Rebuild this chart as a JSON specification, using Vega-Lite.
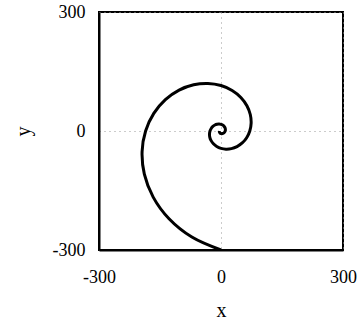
{
  "$schema": "https://vega.github.io/schema/vega-lite/v6.json",
  "width": 244,
  "height": 238,
  "autosize": "none",
  "padding": {"left": 99, "top": 12, "right": 16, "bottom": 70},
  "background": "white",
  "config": {
    "font": "Liberation Serif",
    "view": {"stroke": "black", "strokeWidth": 2},
    "axis": {
      "labelFont": "Liberation Serif",
      "titleFont": "Liberation Serif",
      "labelColor": "black",
      "titleColor": "black",
      "labelFontSize": 18,
      "titleFontSize": 20,
      "titleFontWeight": "normal",
      "labelExpr": "replace(datum.label, '\u2212', '-')",
      "ticks": false,
      "labelFlush": false,
      "labelOverlap": false,
      "domainColor": "black",
      "domainWidth": 2,
      "grid": true,
      "gridColor": "#999999",
      "gridDash": [1, 4],
      "gridWidth": 1
    }
  },
  "data": {
    "values": [
      {"i": 0, "x": 0, "y": -300},
      {"i": 1, "x": -71.66, "y": -267.45},
      {"i": 2, "x": -127.77, "y": -221.3},
      {"i": 3, "x": -166.76, "y": -166.76},
      {"i": 4, "x": -188.5, "y": -108.83},
      {"i": 5, "x": -194.04, "y": -51.99},
      {"i": 6, "x": -185.4, "y": 0},
      {"i": 7, "x": -165.28, "y": 44.29},
      {"i": 8, "x": -136.76, "y": 78.96},
      {"i": 9, "x": -103.06, "y": 103.06},
      {"i": 10, "x": -67.26, "y": 116.5},
      {"i": 11, "x": -32.13, "y": 119.92},
      {"i": 12, "x": 0, "y": 114.58},
      {"i": 13, "x": 27.37, "y": 102.15},
      {"i": 14, "x": 48.8, "y": 84.52},
      {"i": 15, "x": 63.7, "y": 63.7},
      {"i": 16, "x": 71.99, "y": 41.57},
      {"i": 17, "x": 74.11, "y": 19.86},
      {"i": 18, "x": 70.81, "y": 0},
      {"i": 19, "x": 63.12, "y": -16.91},
      {"i": 20, "x": 52.24, "y": -30.16},
      {"i": 21, "x": 39.37, "y": -39.37},
      {"i": 22, "x": 25.69, "y": -44.5},
      {"i": 23, "x": 12.27, "y": -45.8},
      {"i": 24, "x": 0, "y": -43.76},
      {"i": 25, "x": -10.45, "y": -39.01},
      {"i": 26, "x": -18.64, "y": -32.29},
      {"i": 27, "x": -24.32, "y": -24.32},
      {"i": 28, "x": -27.5, "y": -15.88},
      {"i": 29, "x": -28.3, "y": -7.58},
      {"i": 30, "x": -27.05, "y": 0},
      {"i": 31, "x": -24.11, "y": 6.46},
      {"i": 32, "x": -19.95, "y": 11.52},
      {"i": 33, "x": -15.03, "y": 15.03},
      {"i": 34, "x": -9.81, "y": 16.99},
      {"i": 35, "x": -4.69, "y": 17.49},
      {"i": 36, "x": 0, "y": 16.71},
      {"i": 37, "x": 3.99, "y": 14.9},
      {"i": 38, "x": 7.12, "y": 12.33},
      {"i": 39, "x": 9.29, "y": 9.29},
      {"i": 40, "x": 10.5, "y": 6.07},
      {"i": 41, "x": 10.81, "y": 2.9},
      {"i": 42, "x": 10.33, "y": 0},
      {"i": 43, "x": 7.62, "y": -4.4},
      {"i": 44, "x": 3.75, "y": -6.5},
      {"i": 45, "x": 0, "y": -6.39},
      {"i": 46, "x": -2.72, "y": -4.71},
      {"i": 47, "x": -4.01, "y": -2.32},
      {"i": 48, "x": -3.95, "y": 0}
    ]
  },
  "mark": {
    "type": "line",
    "color": "black",
    "strokeWidth": 3,
    "interpolate": "catmull-rom",
    "clip": true
  },
  "encoding": {
    "x": {
      "field": "x",
      "type": "quantitative",
      "title": "x",
      "scale": {"domain": [-300, 300], "nice": false, "zero": false},
      "axis": {"values": [-300, 0, 300], "labelPadding": 18, "titlePadding": 14}
    },
    "y": {
      "field": "y",
      "type": "quantitative",
      "title": "y",
      "scale": {"domain": [-300, 300], "nice": false, "zero": false},
      "axis": {"values": [-300, 0, 300], "labelPadding": 14, "titlePadding": 19}
    },
    "order": {"field": "i", "type": "quantitative"}
  }
}
